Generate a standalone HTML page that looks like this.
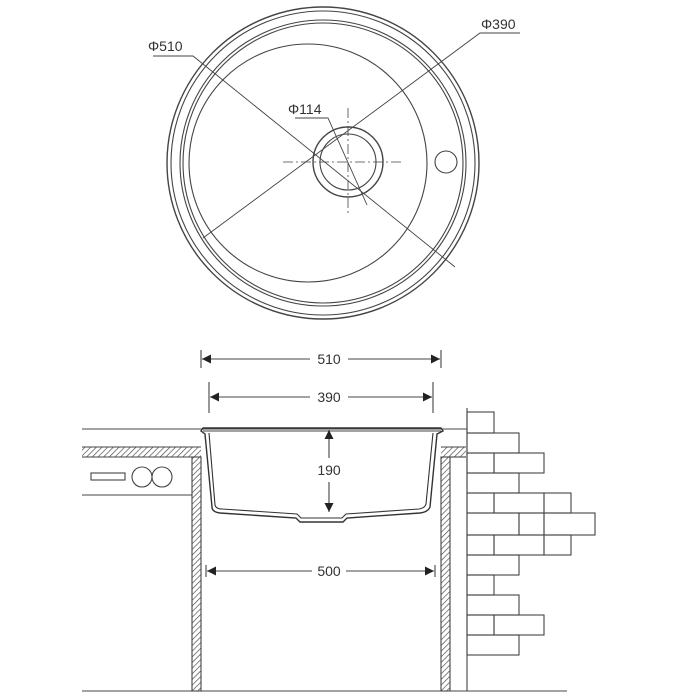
<!DOCTYPE html>
<html><head><meta charset="utf-8"><style>
html,body{margin:0;padding:0;background:#fff;}
svg{display:block;}
text{font-family:"Liberation Sans","DejaVu Sans",sans-serif;fill:#333;}
</style></head><body>
<svg width="700" height="700" viewBox="0 0 700 700" xmlns="http://www.w3.org/2000/svg">
<defs>
<pattern id="h" width="4" height="4" patternUnits="userSpaceOnUse" patternTransform="rotate(45)">
<rect width="4" height="4" fill="#fff"/><line x1="0" y1="0" x2="0" y2="4" stroke="#444" stroke-width="1.3"/>
</pattern>
<marker id="a" viewBox="0 0 10 10" refX="10" refY="5" markerWidth="9" markerHeight="9" orient="auto-start-reverse" markerUnits="userSpaceOnUse">
<path d="M0,0 L10,5 L0,10 z" fill="#222"/></marker>
</defs>
<g fill="none" stroke="#444" stroke-width="1.1">
<circle cx="323" cy="163" r="156" stroke-width="1.4"/>
<circle cx="323" cy="163" r="152"/>
<circle cx="323" cy="163" r="143"/>
<circle cx="323" cy="163" r="140"/>
<circle cx="308" cy="163" r="119"/>
<circle cx="348" cy="162" r="35" stroke-width="1.4"/>
<circle cx="348" cy="162" r="28"/>
<circle cx="446" cy="162" r="11"/>
<line x1="283" y1="162" x2="402" y2="162" stroke-dasharray="10,3,2,3" stroke-width="0.8"/>
<line x1="348" y1="108" x2="348" y2="213" stroke-dasharray="10,3,2,3" stroke-width="0.8"/>
<polyline points="153,56 193,56 455,267" stroke-width="0.9"/>
<polyline points="520,33 480,33 203,238" stroke-width="0.9"/>
<polyline points="295,118 328,118 367,205" stroke-width="0.9"/>
<line x1="82" y1="429" x2="467" y2="429"/>
<line x1="82" y1="495" x2="192" y2="495"/>
<rect x="82" y="447" width="119" height="10" fill="url(#h)" stroke="none"/>
<line x1="82" y1="447" x2="201" y2="447"/><line x1="82" y1="457" x2="192" y2="457"/>
<rect x="441" y="447" width="25" height="10" fill="url(#h)" stroke="none"/>
<line x1="441" y1="447" x2="466" y2="447"/><line x1="450" y1="457" x2="466" y2="457"/>
<rect x="192" y="457" width="9" height="234" fill="url(#h)"/>
<rect x="441" y="457" width="9" height="234" fill="url(#h)"/>
<rect x="91" y="473" width="34" height="7"/>
<circle cx="142" cy="477" r="10"/><circle cx="162" cy="477" r="10"/>
<line x1="82" y1="691" x2="567" y2="691"/>
<line x1="467" y1="408" x2="467" y2="691"/>
<rect x="467" y="412" width="27" height="21"/>
<rect x="467" y="433" width="52" height="20"/>
<rect x="467" y="453" width="27" height="20"/><rect x="494" y="453" width="50" height="20"/>
<rect x="467" y="473" width="52" height="20"/>
<rect x="467" y="493" width="27" height="20"/><rect x="494" y="493" width="50" height="20"/><rect x="544" y="493" width="27" height="20"/>
<rect x="467" y="513" width="52" height="22"/><rect x="519" y="513" width="25" height="22"/><rect x="544" y="513" width="51" height="22"/>
<rect x="467" y="535" width="27" height="20"/><rect x="494" y="535" width="50" height="20"/><rect x="544" y="535" width="27" height="20"/>
<rect x="467" y="555" width="52" height="20"/>
<rect x="467" y="575" width="27" height="20"/>
<rect x="467" y="595" width="52" height="20"/>
<rect x="467" y="615" width="27" height="20"/><rect x="494" y="615" width="50" height="20"/>
<rect x="467" y="635" width="52" height="20"/>
<path d="M201,431 L203,428 L441,428 L443,431 L437,434 L430,507 Q428,512 420,513 L347,518 L343,522 L300,522 L296,518 L220,513 Q212,512 212,507 L205,434 Z" stroke="#333" stroke-width="1.4"/>
<path d="M209,433 L215,505 Q216,509 222,509 L297,514 L301,518 L342,518 L346,514 L419,509 Q425,508 426,504 L433,433" stroke="#333"/>
<line x1="203" y1="431" x2="441" y2="431"/>
<line x1="201" y1="350" x2="201" y2="368"/><line x1="441" y1="350" x2="441" y2="368"/>
<line x1="202" y1="359" x2="310" y2="359" marker-start="url(#a)"/><line x1="348" y1="359" x2="440" y2="359" marker-end="url(#a)"/>
<line x1="209" y1="382" x2="209" y2="413"/><line x1="433" y1="382" x2="433" y2="413"/>
<line x1="210" y1="397" x2="310" y2="397" marker-start="url(#a)"/><line x1="348" y1="397" x2="432" y2="397" marker-end="url(#a)"/>
<line x1="329" y1="430" x2="329" y2="458" marker-start="url(#a)"/><line x1="329" y1="482" x2="329" y2="512" marker-end="url(#a)"/>
<line x1="206" y1="565" x2="206" y2="577"/><line x1="435" y1="565" x2="435" y2="577"/>
<line x1="207" y1="571" x2="312" y2="571" marker-start="url(#a)"/><line x1="346" y1="571" x2="434" y2="571" marker-end="url(#a)"/>
</g>
<g font-size="14">
<text x="148" y="51">Φ510</text>
<text x="481" y="29">Φ390</text>
<text x="288" y="114">Φ114</text>
<text x="329" y="364" text-anchor="middle">510</text>
<text x="329" y="402" text-anchor="middle">390</text>
<text x="329" y="475" text-anchor="middle">190</text>
<text x="329" y="576" text-anchor="middle">500</text>
</g>
</svg>
</body></html>
